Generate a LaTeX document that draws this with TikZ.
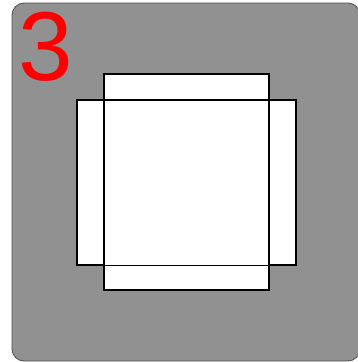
\documentclass[tikz,border=0pt]{standalone}
\usepackage{fontspec}
\setmainfont{Liberation Sans}
\begin{document}
\begin{tikzpicture}[
        x=1pt, y=-1pt,
        panel/.style={draw=black!70, fill=black!43, rounded corners=12pt, line width=0.8pt},
        flap/.style={rectangle, draw=black, fill=white, line width=1.3pt, inner sep=0pt},
        numlabel/.style={text=red, font=\fontsize{98}{98}\selectfont, inner sep=0pt, anchor=base west}
    ]
        \useasboundingbox (0,0) rectangle (358,362);
        \draw[panel] (12,3) rectangle (360,361);
        \node[numlabel] (num) at (18,80) {3};
        % horizontal strip first, then the vertical one over it
        \node[flap, minimum width=217.5pt, minimum height=164pt] (wide) at (186.5,182.5) {};
        \node[flap, minimum width=165pt, minimum height=216pt] (tall) at (186.5,182) {};
        \draw[line width=1.3pt] (wide.north west) rectangle (wide.south east);
    \end{tikzpicture}
\end{document}
